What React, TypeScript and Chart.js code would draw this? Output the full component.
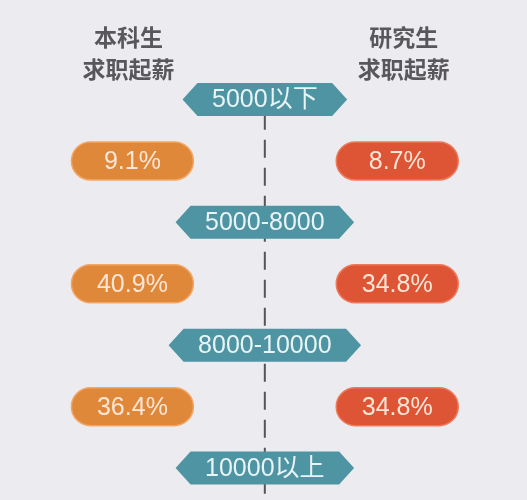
import React, { useEffect, useRef } from "react";
import { Chart, registerables } from "chart.js";

Chart.register(...registerables);

const categories = ["5000以下", "5000-8000", "8000-10000", "10000以上"];
const undergradValues = [9.1, 40.9, 36.4, 13.6];
const graduateValues = [8.7, 34.8, 34.8, 21.7];
const groupNames = ["本科生", "研究生"];
const groupSubtitle = "求职起薪";

const BG = "#ececf0";
const ORANGE = "#e0883a";
const RED = "#de5536";
const TEAL = "#4e94a3";
const NUM_FONT = '"Liberation Sans", "Noto Sans CJK SC", sans-serif';
const CJK_FONT = '"Noto Sans CJK SC", "Liberation Sans", sans-serif';

const infoPlugin = {
  id: "infoPlugin",
  beforeDraw(chart: any) {
    const { ctx, width, height } = chart;
    ctx.save();
    ctx.fillStyle = BG;
    ctx.fillRect(0, 0, width, height);
    ctx.restore();
  },
  afterDatasetsDraw(chart: any) {
    const { ctx } = chart;
    const xScale = chart.scales.x;
    const yScale = chart.scales.y;
    ctx.save();

    // group titles
    ctx.fillStyle = "#58585c";
    ctx.textAlign = "center";
    ctx.textBaseline = "middle";
    ctx.font = `bold 23px ${CJK_FONT}`;
    const tx = [xScale.getPixelForValue(-1.03), xScale.getPixelForValue(1.05)];
    const t1 = yScale.getPixelForValue(-0.51);
    const t2 = yScale.getPixelForValue(-0.245);
    groupNames.forEach((g, i) => {
      ctx.fillText(g, tx[i], t1);
      ctx.fillText(groupSubtitle, tx[i], t2);
    });

    // pills
    const drawPills = (dsIndex: number, values: number[], color: string, rim: string) => {
      const meta = chart.getDatasetMeta(dsIndex);
      meta.data.forEach((pt: any, i: number) => {
        const w = 122;
        const h = 38;
        ctx.beginPath();
        ctx.roundRect(pt.x - w / 2, pt.y - h / 2, w, h, h / 2);
        ctx.fillStyle = color;
        ctx.fill();
        ctx.lineWidth = 1.5;
        ctx.strokeStyle = rim;
        ctx.stroke();
        ctx.fillStyle = "#fbe6d8";
        ctx.font = `25px ${NUM_FONT}`;
        ctx.textAlign = "center";
        ctx.textBaseline = "middle";
        ctx.fillText(values[i].toFixed(1) + "%", pt.x, pt.y + 1);
      });
    };
    drawPills(1, undergradValues, ORANGE, "#f2a766");
    drawPills(2, graduateValues, RED, "#ee7a5c");

    // category hexagons
    const meta = chart.getDatasetMeta(3);
    meta.data.forEach((pt: any, i: number) => {
      ctx.font = `25px ${NUM_FONT}`;
      const tw = ctx.measureText(categories[i]).width;
      const w = tw + 59;
      const h = 33;
      const tip = 15;
      const l = pt.x - w / 2;
      const r = pt.x + w / 2;
      ctx.beginPath();
      ctx.moveTo(l, pt.y);
      ctx.lineTo(l + tip, pt.y - h / 2);
      ctx.lineTo(r - tip, pt.y - h / 2);
      ctx.lineTo(r, pt.y);
      ctx.lineTo(r - tip, pt.y + h / 2);
      ctx.lineTo(l + tip, pt.y + h / 2);
      ctx.closePath();
      ctx.fillStyle = TEAL;
      ctx.fill();
      ctx.fillStyle = "#e8f4f7";
      ctx.textAlign = "center";
      ctx.textBaseline = "middle";
      ctx.fillText(categories[i], pt.x, pt.y + 1);
    });
    ctx.restore();
  },
};

export default function App() {
  const canvasRef = useRef<HTMLCanvasElement | null>(null);

  useEffect(() => {
    if (!canvasRef.current) return;
    const chart = new Chart(canvasRef.current, {
      type: "scatter",
      data: {
        datasets: [
          {
            type: "line",
            label: "axis",
            data: [
              { x: 0, y: 0.1 },
              { x: 0, y: 4.2 },
            ],
            borderColor: "#555558",
            borderWidth: 2,
            borderDash: [18, 10],
            pointRadius: 0,
            fill: false,
          } as any,
          {
            label: groupNames[0],
            data: categories.map((_, i) => ({ x: -1, y: i + 0.5 })),
            pointRadius: 0,
          },
          {
            label: groupNames[1],
            data: categories.map((_, i) => ({ x: 1, y: i + 0.5 })),
            pointRadius: 0,
          },
          {
            label: "categories",
            data: categories.map((_, i) => ({ x: 0, y: i })),
            pointRadius: 0,
          },
        ],
      },
      options: {
        animation: false,
        responsive: true,
        maintainAspectRatio: false,
        layout: { padding: 0 },
        plugins: {
          legend: { display: false },
          tooltip: { enabled: false },
          title: { display: false },
        },
        scales: {
          x: { type: "linear", display: false, min: -2, max: 1.98 },
          y: { type: "linear", display: false, reverse: true, min: -0.81, max: 3.26 },
        },
      },
      plugins: [infoPlugin],
    });
    return () => chart.destroy();
  }, []);

  return (
    <div
      style={{
        position: "fixed",
        left: 0,
        top: 0,
        width: 527,
        height: 500,
        background: BG,
      }}
    >
      <canvas ref={canvasRef} />
    </div>
  );
}
